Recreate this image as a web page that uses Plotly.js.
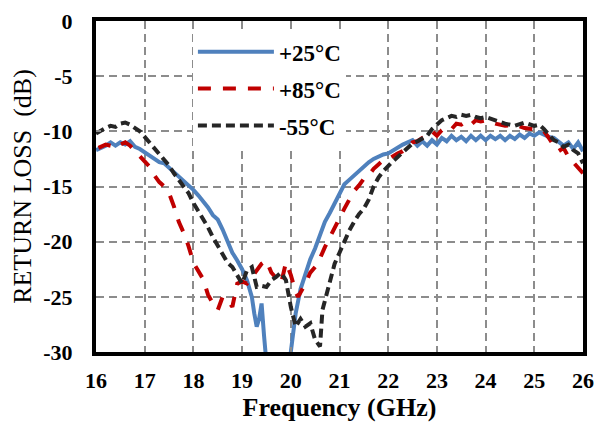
<!DOCTYPE html>
<html>
<head>
<meta charset="utf-8">
<script src="https://cdn.plot.ly/plotly-3.0.1.min.js"></script>
<style>html,body{margin:0;padding:0;background:#fff;}#chart{width:601px;height:426px;}</style>
</head>
<body>
<div id="chart"></div>
<script>
// +25°C
const freq25 = [16.0,16.1,16.2,16.3,16.4,16.5,16.6,16.7,16.8,16.9,17.0,17.1,17.2,17.3,17.4,17.5,17.6,17.7,17.8,17.9,18.0,18.1,18.2,18.3,18.4,18.5,18.6,18.7,18.8,18.9,19.0,19.1,19.2,19.25,19.3,19.35,19.4,19.45,19.5,19.7,19.9,20.0,20.1,20.2,20.3,20.4,20.5,20.6,20.7,20.8,20.9,21.0,21.1,21.2,21.3,21.4,21.5,21.6,21.7,21.8,21.9,22.0,22.1,22.2,22.3,22.4,22.5,22.6,22.7,22.8,22.9,23.0,23.1,23.2,23.3,23.4,23.5,23.6,23.7,23.8,23.9,24.0,24.1,24.2,24.3,24.4,24.5,24.6,24.7,24.8,24.9,25.0,25.1,25.2,25.3,25.4,25.5,25.6,25.7,25.8,25.9,26.0];
const rl25 = [-11.7,-11.5,-11.3,-11.0,-11.3,-11.0,-11.2,-10.9,-11.4,-11.6,-11.9,-12.1,-12.4,-12.8,-12.9,-13.3,-13.6,-14.0,-14.4,-14.9,-15.3,-15.8,-16.3,-16.9,-17.6,-18.0,-18.9,-20.0,-21.0,-21.7,-22.5,-23.5,-25.0,-26.5,-27.7,-27.0,-25.6,-28.5,-31,-33,-33,-30,-26.5,-24.3,-22.8,-21.6,-20.6,-19.3,-18.2,-17.4,-16.5,-15.6,-14.8,-14.4,-14.0,-13.5,-13.1,-12.8,-12.5,-12.3,-12.1,-12.0,-11.7,-11.5,-11.2,-11.0,-10.8,-11.3,-10.9,-11.3,-10.8,-11.2,-10.6,-10.9,-10.4,-10.8,-10.5,-10.9,-10.4,-10.8,-10.4,-10.8,-10.4,-10.7,-10.4,-10.8,-10.4,-10.7,-10.3,-10.6,-10.2,-10.4,-10.1,-10.3,-10.5,-10.6,-10.9,-11.3,-11.0,-11.6,-11.0,-11.8];

// +85°C
const freq85 = [16.05,16.1,16.2,16.3,16.4,16.5,16.6,16.7,16.8,16.9,17.0,17.1,17.2,17.3,17.4,17.5,17.6,17.7,17.8,17.9,18.0,18.1,18.2,18.3,18.4,18.5,18.6,18.7,18.8,18.9,19.0,19.1,19.2,19.3,19.4,19.5,19.6,19.7,19.8,19.9,20.0,20.1,20.15,20.3,20.4,20.5,20.6,20.7,20.8,20.9,21.0,21.1,21.2,21.3,21.4,21.5,21.6,21.7,21.8,21.9,22.0,22.1,22.2,22.3,22.4,22.5,22.6,22.7,22.8,22.9,23.0,23.1,23.2,23.3,23.4,23.5,23.6,23.7,23.8,23.9,24.0,24.2,24.4,24.6,24.8,25.0,25.2,25.3,25.4,25.5,25.6,25.7,25.8,25.9,26.0];
const rl85 = [-11.5,-11.4,-11.2,-11.3,-11.0,-11.2,-11.0,-11.3,-11.8,-12.3,-12.7,-13.2,-14.0,-14.6,-15.0,-15.6,-16.8,-18.2,-19.2,-20.4,-21.9,-22.6,-23.4,-24.8,-25.6,-26.2,-25.0,-25.3,-25.9,-23.8,-23.6,-23.8,-23.2,-22.6,-22.0,-21.7,-22.8,-23.3,-23.8,-21.9,-23.0,-24.6,-25.0,-23.8,-22.8,-22.3,-21.5,-20.5,-19.6,-18.6,-17.8,-17.0,-16.2,-15.4,-14.9,-14.3,-14.0,-13.4,-13.0,-12.6,-12.5,-12.2,-12.0,-11.8,-11.5,-11.0,-10.9,-10.6,-10.4,-10.0,-10.4,-9.9,-9.6,-9.8,-9.3,-9.4,-9.1,-9.4,-9.0,-9.1,-9.0,-9.3,-9.5,-9.4,-9.7,-9.8,-10.0,-10.6,-11.3,-11.8,-11.5,-12.3,-12.8,-13.3,-13.8];

// -55°C
const freqM55 = [16.0,16.1,16.2,16.3,16.4,16.5,16.6,16.7,16.8,16.9,17.0,17.1,17.2,17.3,17.4,17.5,17.6,17.7,17.8,17.9,18.0,18.1,18.2,18.3,18.4,18.5,18.6,18.7,18.8,18.9,19.0,19.1,19.2,19.3,19.4,19.5,19.6,19.7,19.8,19.9,20.0,20.1,20.2,20.3,20.4,20.5,20.6,20.65,20.7,20.8,20.9,21.0,21.1,21.2,21.3,21.4,21.5,21.6,21.7,21.8,21.9,22.0,22.1,22.2,22.3,22.4,22.5,22.6,22.7,22.8,22.9,23.0,23.1,23.2,23.3,23.4,23.5,23.6,23.7,23.8,23.9,24.0,24.2,24.4,24.6,24.8,25.0,25.1,25.2,25.3,25.4,25.5,25.6,25.7,25.8,25.9,26.0];
const rlM55 = [-10.2,-9.9,-9.7,-9.5,-9.6,-9.3,-9.2,-9.4,-9.7,-10.0,-10.5,-11.0,-11.5,-12.0,-12.5,-13.1,-13.8,-14.4,-15.0,-15.6,-16.5,-17.2,-18.0,-18.7,-19.6,-20.4,-21.2,-21.9,-22.3,-23.0,-23.8,-22.6,-22.3,-24.1,-24.0,-24.1,-23.5,-23.2,-22.8,-23.5,-25.9,-27.7,-27.0,-27.7,-27.4,-28.9,-29.5,-26.2,-25.3,-23.5,-22.0,-21.0,-19.9,-19.0,-18.2,-17.5,-17.0,-16.2,-15.0,-14.2,-13.6,-13.1,-12.7,-12.3,-11.9,-11.5,-11.1,-10.9,-10.6,-10.4,-9.8,-9.4,-9.0,-8.8,-8.6,-8.7,-8.5,-8.6,-8.5,-8.7,-8.8,-8.7,-9.0,-9.3,-9.5,-9.2,-9.5,-9.4,-9.8,-10.3,-10.8,-11.0,-11.4,-11.2,-11.7,-12.0,-12.9];

const names = ['+25°C', '+85°C', '-55°C'];
const xTicks = [16,17,18,19,20,21,22,23,24,25,26];
const yTicks = [0,-5,-10,-15,-20,-25,-30];

const serif = 'Liberation Serif, Times New Roman, serif';

const traces = [
  {x: freq25, y: rl25, name: names[0], mode: 'lines', legendgroup: 'a',
   line: {color: '#4f81bd', width: 4}},
  {x: freq85, y: rl85, name: names[1], mode: 'lines', legendgroup: 'b',
   line: {color: '#c00000', width: 4, dash: '13px,12px'}},
  {x: freqM55, y: rlM55, name: names[2], mode: 'lines', legendgroup: 'c',
   line: {color: '#262626', width: 4, dash: '9px,5px'}}
];

const layout = {
  width: 601, height: 426,
  margin: {l: 96, r: 18, t: 21, b: 74},
  paper_bgcolor: '#fff', plot_bgcolor: '#fff',
  font: {family: serif, color: '#000'},
  showlegend: true,
  legend: {x: 0.199, y: 0.972, xanchor: 'left', yanchor: 'top',
    bgcolor: '#fff', borderwidth: 0,
    font: {family: serif, size: 23, color: '#000', weight: 'bold'},
    tracegroupgap: 4, itemwidth: 76},
  shapes: [
    {type: 'rect', xref: 'paper', yref: 'paper', layer: 'between',
     x0: 0.178, x1: 0.538, y0: 0.62, y1: 1, fillcolor: '#fff', line: {width: 0}}
  ],
  xaxis: {
    range: [16, 26], tickvals: xTicks, ticktext: xTicks.map(String),
    showgrid: true, gridcolor: '#8c8c8c', gridwidth: 2, griddash: '8px,5px',
    showline: true, linecolor: '#000', linewidth: 4, mirror: true,
    ticks: 'inside', ticklen: 5, tickcolor: '#8c8c8c', tickwidth: 2,
    tickfont: {family: serif, size: 22, color: '#000', weight: 'bold'},
    ticklabelstandoff: 6,
    zeroline: false,
    title: {text: 'Frequency (GHz)', font: {family: serif, size: 26, color: '#000', weight: 'bold'}, standoff: 2}
  },
  yaxis: {
    range: [-30, 0], tickvals: yTicks, ticktext: yTicks.map(String),
    showgrid: true, gridcolor: '#8c8c8c', gridwidth: 2, griddash: '8px,5px',
    showline: true, linecolor: '#000', linewidth: 4, mirror: true,
    ticks: 'inside', ticklen: 5, tickcolor: '#8c8c8c', tickwidth: 2,
    tickfont: {family: serif, size: 22, color: '#000', weight: 'bold'},
    ticklabelstandoff: 15,
    zeroline: false,
    title: {text: 'RETURN LOSS  (dB)', font: {family: serif, size: 26, color: '#000'}, standoff: 5}
  }
};

Plotly.newPlot('chart', traces, layout, {displayModeBar: false, staticPlot: true});
</script>
</body>
</html>
